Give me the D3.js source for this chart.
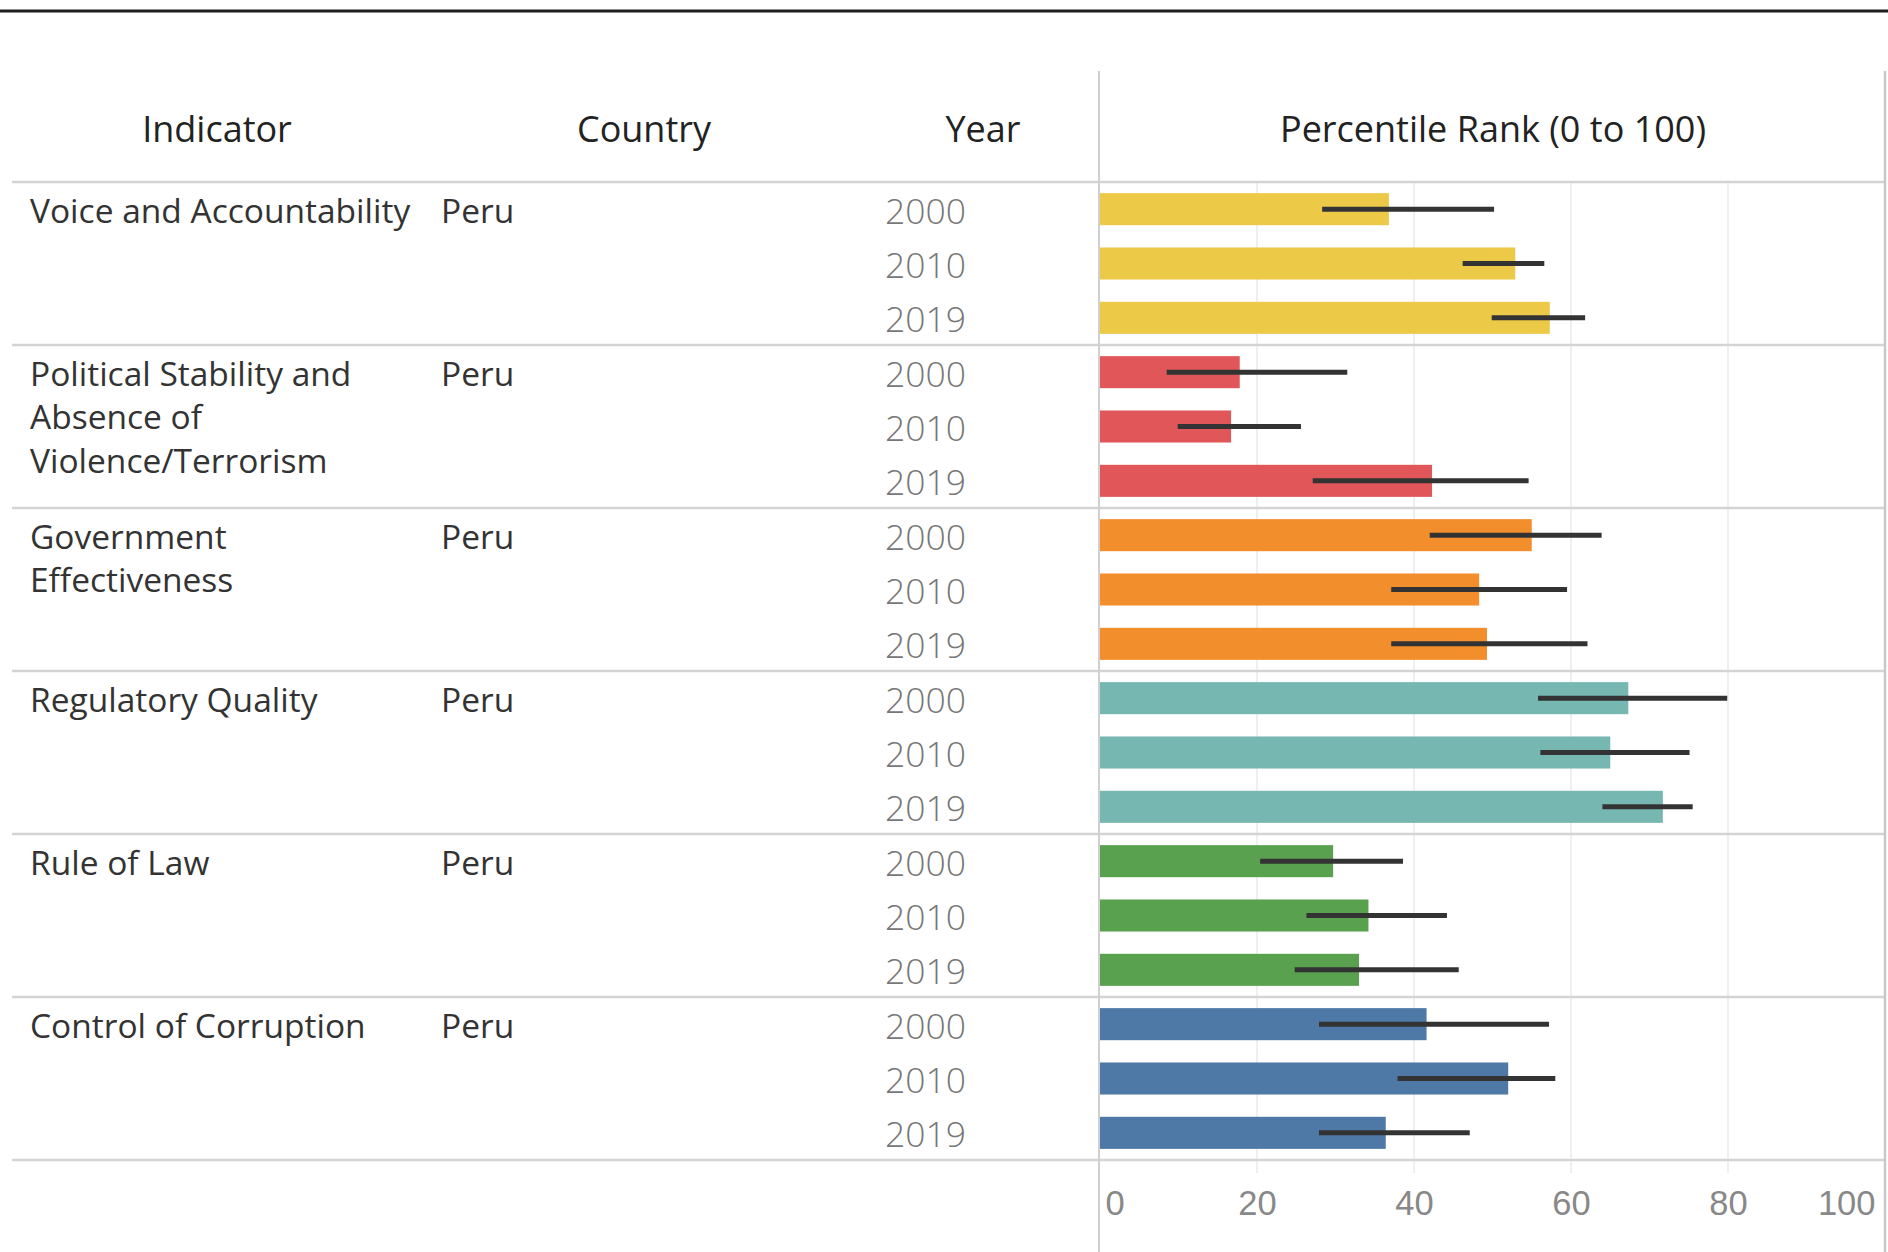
<!DOCTYPE html>
<html lang="en">
<head>
	<meta charset="UTF-8">
	<title>Worldwide Governance Indicators - Peru</title>
	<script src="https://d3js.org/d3.v7.min.js"></script>
	<style>
		body {
			margin: 0;
			background-color: white;
		}
		svg {
			display: block;
			background-color: white;
			font-family: "Open Sans", "Noto Sans", sans-serif;
		}
		.header text {
			font-size: 36px;
			fill: #222;
		}
		.label {
			font-size: 33.5px;
			fill: #333;
		}
		.year {
			font-size: 35.5px;
			font-weight: 300;
			fill: #777;
		}
		.axis text {
			font-size: 34.5px;
			font-weight: 300;
			fill: #888;
		}
	</style>
</head>
<body>
	<script>
		// values
		var indicators = ['Voice and Accountability',
			'Political Stability and Absence of Violence/Terrorism',
			'Government Effectiveness',
			'Regulatory Quality',
			'Rule of Law',
			'Control of Corruption'];
		var countries = ['Peru', 'Peru', 'Peru', 'Peru', 'Peru', 'Peru'];
		var years = ['2000', '2010', '2019'];
		// percentile rank per indicator, one value per year
		var rank = [
			[36.8, 52.9, 57.3],
			[17.8, 16.7, 42.3],
			[55.0, 48.3, 49.3],
			[67.3, 65.0, 71.7],
			[29.7, 34.2, 33.0],
			[41.6, 52.0, 36.4]
		];
		// 90% confidence interval bounds
		var lower = [
			[28.3, 46.2, 49.9],
			[8.5, 9.9, 27.1],
			[42.0, 37.1, 37.1],
			[55.8, 56.1, 64.0],
			[20.4, 26.3, 24.8],
			[27.9, 37.9, 27.9]
		];
		var upper = [
			[50.2, 56.6, 61.8],
			[31.5, 25.6, 54.6],
			[63.9, 59.5, 62.1],
			[79.9, 75.1, 75.5],
			[38.6, 44.2, 45.7],
			[57.2, 58.0, 47.1]
		];
		var tickValues = [0, 20, 40, 60, 80, 100];
		var colors = ['#edc948', '#e15759', '#f28e2b', '#76b7b2', '#59a14f', '#4e79a7'];

		var width = 1888,
			height = 1252;

		var svg = d3.select('body')
			.append('svg')
			.attr('width', width)
			.attr('height', height);

		var x = d3.scaleLinear()
			.domain([0, 100])
			.range([1100, 1885]);

		var yGroup = d3.scaleBand()
			.domain(indicators)
			.range([182, 1160]);

		var yRow = d3.scaleBand()
			.domain(years)
			.range([0, yGroup.bandwidth()])
			.paddingInner(0.41)
			.paddingOuter(0.205);

		var rowStep = yGroup.bandwidth() / years.length;

		// flatten into one row per indicator/year
		var rows = [];
		indicators.forEach(function (ind, i) {
			years.forEach(function (yr, j) {
				rows.push({
					indicator: ind,
					i: i,
					year: yr,
					value: rank[i][j],
					lo: lower[i][j],
					hi: upper[i][j]
				});
			});
		});

		// top rule
		svg.append('line')
			.attr('x1', 0).attr('x2', width)
			.attr('y1', 11).attr('y2', 11)
			.attr('stroke', '#1e1e1e')
			.attr('stroke-width', 3);

		// gridlines
		svg.append('g')
			.selectAll('line')
			.data(tickValues.filter(function (d) { return d > 0 && d < 100; }))
			.enter().append('line')
			.attr('x1', function (d) { return x(d); })
			.attr('x2', function (d) { return x(d); })
			.attr('y1', 182)
			.attr('y2', 1173)
			.attr('stroke', '#efefef')
			.attr('stroke-width', 2);

		// bars
		svg.append('g')
			.selectAll('rect')
			.data(rows)
			.enter().append('rect')
			.attr('x', x(0))
			.attr('y', function (d) { return yGroup(d.indicator) + yRow(d.year); })
			.attr('width', function (d) { return x(d.value) - x(0); })
			.attr('height', yRow.bandwidth())
			.attr('fill', function (d) { return colors[d.i]; });

		// confidence interval whiskers
		svg.append('g')
			.selectAll('line')
			.data(rows)
			.enter().append('line')
			.attr('x1', function (d) { return x(d.lo); })
			.attr('x2', function (d) { return x(d.hi); })
			.attr('y1', function (d) { return yGroup(d.indicator) + yRow(d.year) + yRow.bandwidth() / 2; })
			.attr('y2', function (d) { return yGroup(d.indicator) + yRow(d.year) + yRow.bandwidth() / 2; })
			.attr('stroke', '#333')
			.attr('stroke-width', 5);

		// horizontal separators
		var seps = indicators.map(function (d) { return yGroup(d); }).concat([yGroup.range()[1]]);
		svg.append('g')
			.selectAll('line')
			.data(seps)
			.enter().append('line')
			.attr('x1', 12)
			.attr('x2', 1885)
			.attr('y1', function (d) { return d; })
			.attr('y2', function (d) { return d; })
			.attr('stroke', '#d4d4d4')
			.attr('stroke-width', 2.5);

		// vertical frame lines
		svg.append('line')
			.attr('x1', x(0) - 1).attr('x2', x(0) - 1)
			.attr('y1', 71).attr('y2', height)
			.attr('stroke', '#d0d0d0')
			.attr('stroke-width', 2);
		svg.append('line')
			.attr('x1', x(100)).attr('x2', x(100))
			.attr('y1', 71).attr('y2', height)
			.attr('stroke', '#c8c8c8')
			.attr('stroke-width', 2.5);

		// column headers
		var header = svg.append('g').attr('class', 'header');
		[['Indicator', 217], ['Country', 644], ['Year', 983], ['Percentile Rank (0 to 100)', 1493]]
			.forEach(function (h) {
				header.append('text')
					.attr('x', h[1])
					.attr('y', 129)
					.attr('dy', '0.35em')
					.attr('text-anchor', 'middle')
					.text(h[0]);
			});

		// indicator labels, wrapped to column width
		var labels = svg.append('g')
			.selectAll('text.label')
			.data(indicators)
			.enter().append('text')
			.attr('class', 'label')
			.attr('x', 30)
			.attr('y', function (d) { return yGroup(d) + rowStep / 2 + 2; })
			.attr('dy', '0.35em')
			.text(function (d) { return d; });
		labels.each(function (d) {
			var t = d3.select(this),
				words = d.split(' '),
				line = [],
				tspan = t.text(null).append('tspan').attr('x', 30);
			words.forEach(function (w) {
				line.push(w);
				tspan.text(line.join(' '));
				if (tspan.node().getComputedTextLength() > 395 && line.length > 1) {
					line.pop();
					tspan.text(line.join(' '));
					line = [w];
					tspan = t.append('tspan').attr('x', 30)
						.attr('dy', 43.5)
						.text(w);
				}
			});
		});

		// country labels
		svg.append('g')
			.selectAll('text')
			.data(indicators)
			.enter().append('text')
			.attr('class', 'label')
			.attr('x', 441)
			.attr('y', function (d) { return yGroup(d) + rowStep / 2 + 2; })
			.attr('dy', '0.35em')
			.text(function (d, i) { return countries[i]; });

		// year labels
		svg.append('g')
			.selectAll('text')
			.data(rows)
			.enter().append('text')
			.attr('class', 'year')
			.attr('x', 966)
			.attr('y', function (d) { return yGroup(d.indicator) + yRow(d.year) + yRow.bandwidth() / 2 + 2; })
			.attr('dy', '0.35em')
			.attr('text-anchor', 'end')
			.text(function (d) { return d.year; });

		// bottom axis
		var axis = svg.append('g')
			.attr('class', 'axis')
			.attr('transform', 'translate(0,1203)')
			.call(d3.axisBottom(x).tickValues(tickValues).tickSize(0).tickPadding(0));
		axis.select('.domain').remove();
		axis.selectAll('text')
			.attr('dy', '0.35em')
			.attr('transform', function (d) {
				if (d === 0) return 'translate(5,0)';
				if (d === 100) return 'translate(-10,0)';
				return null;
			})
			.attr('text-anchor', function (d) {
				if (d === 0) return 'start';
				if (d === 100) return 'end';
				return 'middle';
			});
	</script>
</body>
</html>
